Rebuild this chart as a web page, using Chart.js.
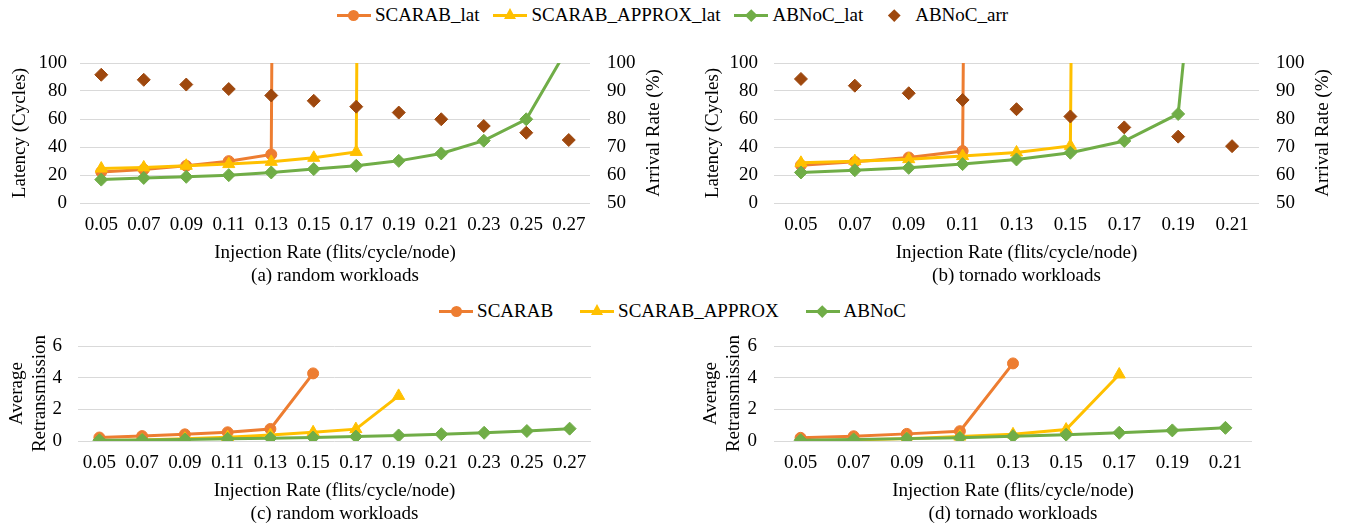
<!DOCTYPE html>
<html>
<head>
<meta charset="utf-8">
<script src="https://cdn.jsdelivr.net/npm/chart.js@4.4.1/dist/chart.umd.min.js"></script>
<style>
  body { margin: 0; background: #fff; width: 1345px; height: 528px; position: relative; overflow: hidden;
         font-family: "Liberation Serif", "Times New Roman", serif; color: #000; }
  .box { position: absolute; }
  .legend { position: absolute; left: 0; width: 1345px; display: flex; justify-content: center;
            font-size: 19px; line-height: 22px; white-space: nowrap; }
  .item { display: flex; align-items: center; }
  .sym { position: relative; width: 34px; height: 22px; margin-right: 4px; }
  .ln { position: absolute; left: 0; right: 0; top: 50%; height: 3px; margin-top: -1.5px; }
  .mk { position: absolute; left: 50%; top: 50%; }
  .mk.circle { width: 11px; height: 11px; margin: -5.5px 0 0 -5.5px; border-radius: 50%; }
  .mk.triangle { width: 0; height: 0; margin: -7px 0 0 -6.5px; border-left: 6.5px solid transparent;
                 border-right: 6.5px solid transparent; border-bottom: 11px solid; }
  .mk.diamond { width: 8.5px; height: 8.5px; margin: -4.25px 0 0 -4.25px; transform: rotate(45deg); }
</style>
</head>
<body>
<div id="legendTop" class="legend" style="top:4px"></div>
<div id="legendBottom" class="legend" style="top:300px"></div>
<div class="box" style="left:0;top:40px"><canvas id="chartA" width="670" height="250"></canvas></div>
<div class="box" style="left:670px;top:40px"><canvas id="chartB" width="675" height="250"></canvas></div>
<div class="box" style="left:0;top:325px"><canvas id="chartC" width="670" height="203"></canvas></div>
<div class="box" style="left:670px;top:325px"><canvas id="chartD" width="675" height="203"></canvas></div>
<script>
// ---- data ----
const catsRandom  = ['0.05','0.07','0.09','0.11','0.13','0.15','0.17','0.19','0.21','0.23','0.25','0.27'];
const catsTornado = ['0.05','0.07','0.09','0.11','0.13','0.15','0.17','0.19','0.21'];

// latency (cycles); the 5000 entries are saturated points far above the axis
const randScarabLat  = [22.2, 23.9, 26.6, 29.9, 34.7, 5000, null, null, null, null, null, null];
const randApproxLat  = [24.6, 25.4, 26.6, 27.8, 29.4, 32.3, 36.5, 5000, null, null, null, null];
const randAbnocLat   = [16.7, 17.9, 18.7, 19.9, 21.8, 24.2, 26.6, 30.1, 35.4, 44.5, 59.8, 112];
const randAbnocArr   = [95.8, 94.0, 92.3, 90.7, 88.4, 86.5, 84.4, 82.3, 79.9, 77.5, 75.1, 72.5];

const tornScarabLat  = [27.0, 29.4, 32.5, 37.1, 5000, null, null, null, null];
const tornApproxLat  = [28.7, 29.9, 31.3, 33.5, 36.1, 40.8, 5000, null, null];
const tornAbnocLat   = [21.8, 23.4, 25.1, 27.8, 31.1, 35.9, 44.3, 63.6, 450];
const tornAbnocArr   = [94.3, 91.9, 89.2, 86.8, 83.5, 80.9, 77.0, 73.7, 70.3];

// average retransmission
const randScarabRe   = [0.22, 0.31, 0.42, 0.55, 0.76, 4.27];
const randApproxRe   = [0.02, 0.06, 0.14, 0.24, 0.38, 0.55, 0.75, 2.85];
const randAbnocRe    = [0.05, 0.07, 0.10, 0.14, 0.18, 0.22, 0.28, 0.35, 0.43, 0.52, 0.63, 0.78];

const tornScarabRe   = [0.20, 0.30, 0.45, 0.62, 4.90];
const tornApproxRe   = [0.02, 0.07, 0.15, 0.28, 0.42, 0.72, 4.20];
const tornAbnocRe    = [0.05, 0.10, 0.15, 0.20, 0.30, 0.40, 0.52, 0.67, 0.83];

const latNames = ['SCARAB_lat', 'SCARAB_APPROX_lat', 'ABNoC_lat', 'ABNoC_arr'];
const reNames  = ['SCARAB', 'SCARAB_APPROX', 'ABNoC'];

// ---- style ----
const ORANGE = '#ED7D31', YELLOW = '#FFC000', GREEN = '#70AD47', BROWN = '#9E480E';
const GRID = '#d9d9d9';
const FONT = { family: '"Liberation Serif", "Times New Roman", serif', size: 19 };
Chart.defaults.font.family = FONT.family;
Chart.defaults.font.size = FONT.size;
Chart.defaults.color = '#000';

// ---- legends (html) ----
function buildLegend(el, names, colors, shapes, withLine, gap) {
  el.innerHTML = names.map((n, i) => `
    <span class="item" style="margin:0 ${gap / 2}px">
      <span class="sym">
        ${withLine[i] ? `<span class="ln" style="background:${colors[i]}"></span>` : ''}
        <span class="mk ${shapes[i]}" style="background:${shapes[i] === 'triangle' ? 'transparent' : colors[i]};color:${colors[i]}"></span>
      </span>
      <span>${n}</span>
    </span>`).join('');
}
buildLegend(document.getElementById('legendTop'), latNames,
  [ORANGE, YELLOW, GREEN, BROWN], ['circle', 'triangle', 'diamond', 'diamond'], [true, true, true, false], 14);
buildLegend(document.getElementById('legendBottom'), reNames,
  [ORANGE, YELLOW, GREEN], ['circle', 'triangle', 'diamond'], [true, true, true], 27);

// ---- helpers ----
function series(label, data, color, shape, radius, order, axis) {
  return {
    label, data, order, yAxisID: axis || 'y',
    borderColor: color, backgroundColor: color, borderWidth: 3, tension: 0,
    pointStyle: shape, pointRadius: radius, pointBorderWidth: 1,
    pointBackgroundColor: color, pointBorderColor: color
  };
}

// fixed box width for a vertical axis; the layout padding alone sets the plot top
function fixWidth(w) {
  return s => { s.width = w; s.paddingTop = 0; s.paddingBottom = 0; };
}

// right-hand axis title reads bottom-to-top like the left one
function sideTitle(text, x) {
  return {
    id: 'sideTitle',
    afterDraw(chart) {
      const { ctx, chartArea } = chart;
      ctx.save();
      ctx.translate(x, (chartArea.top + chartArea.bottom) / 2);
      ctx.rotate(-Math.PI / 2);
      ctx.font = `${FONT.size}px ${FONT.family}`;
      ctx.fillStyle = '#000';
      ctx.textAlign = 'center';
      ctx.textBaseline = 'middle';
      ctx.fillText(text, 0, 0);
      ctx.restore();
    }
  };
}

function xScale(caption, h) {
  return {
    offset: true,
    grid: { display: false, drawTicks: false },
    border: { display: false },
    ticks: { padding: 11, maxRotation: 0, autoSkip: false },
    title: { display: true, text: ['Injection Rate (flits/cycle/node)', caption], padding: { top: 0, bottom: 3 } },
    afterFit: s => { s.height = h; }
  };
}

function latChart(id, cats, lat1, lat2, lat3, arr, caption, g) {
  return new Chart(document.getElementById(id), {
    type: 'line',
    data: {
      labels: cats,
      datasets: [
        series(latNames[0], lat1, ORANGE, 'circle', 5.5, 4),
        series(latNames[1], lat2, YELLOW, 'triangle', 7, 3),
        series(latNames[2], lat3, GREEN, 'rectRot', 6.5, 2),
        { label: latNames[3], data: arr, yAxisID: 'y1', order: 1, showLine: false,
          pointStyle: 'rectRot', pointRadius: 6.5, pointBackgroundColor: BROWN, pointBorderColor: BROWN,
          backgroundColor: BROWN, borderColor: BROWN }
      ]
    },
    options: {
      responsive: false, animation: false, events: [],
      layout: { padding: { top: g.top, right: 0, bottom: 0, left: 0 } },
      plugins: { legend: { display: false }, tooltip: { enabled: false } },
      scales: {
        x: xScale(caption, g.xh),
        y: {
          position: 'left', min: 0, max: 100,
          ticks: { stepSize: 20, padding: g.ltick },
          grid: { color: GRID, drawTicks: false },
          border: { display: false },
          title: { display: true, text: 'Latency (Cycles)', padding: { top: g.ltitle, bottom: 0 } },
          afterFit: fixWidth(g.lw)
        },
        y1: {
          position: 'right', min: 50, max: 100,
          ticks: { stepSize: 10, padding: g.rtick },
          grid: { display: false, drawTicks: false },
          border: { display: false },
          afterFit: fixWidth(g.rw)
        }
      }
    },
    plugins: [sideTitle('Arrival Rate (%)', g.rtitle)]
  });
}

function reChart(id, cats, r1, r2, r3, caption, g) {
  return new Chart(document.getElementById(id), {
    type: 'line',
    data: {
      labels: cats,
      datasets: [
        series(reNames[0], r1, ORANGE, 'circle', 5.5, 3),
        series(reNames[1], r2, YELLOW, 'triangle', 7, 2),
        series(reNames[2], r3, GREEN, 'rectRot', 6.5, 1)
      ]
    },
    options: {
      responsive: false, animation: false, events: [],
      layout: { padding: { top: g.top, right: g.right, bottom: 0, left: 0 } },
      plugins: { legend: { display: false }, tooltip: { enabled: false } },
      scales: {
        x: xScale(caption, g.xh),
        y: {
          position: 'left', min: 0, max: 6,
          ticks: { stepSize: 2, padding: g.ltick },
          grid: { color: GRID, drawTicks: false },
          border: { display: false },
          title: { display: true, text: ['Average', 'Retransmission'], padding: { top: g.ltitle, bottom: 0 } },
          afterFit: fixWidth(g.lw)
        }
      }
    }
  });
}

// ---- charts ----
latChart('chartA', catsRandom, randScarabLat, randApproxLat, randAbnocLat, randAbnocArr,
  '(a) random workloads', { top: 23, xh: 87, lw: 80, rw: 80, ltick: 13, rtick: 17, ltitle: 9, rtitle: 654 });
latChart('chartB', catsTornado, tornScarabLat, tornApproxLat, tornAbnocLat, tornAbnocArr,
  '(b) tornado workloads', { top: 23, xh: 87, lw: 104, rw: 86, ltick: 16, rtick: 17, ltitle: 31.5, rtitle: 653 });
reChart('chartC', catsRandom, randScarabRe, randApproxRe, randAbnocRe,
  '(c) random workloads', { top: 21, right: 79, xh: 87, lw: 78, ltick: 16, ltitle: 5.5 });
reChart('chartD', catsTornado, tornScarabRe, tornApproxRe, tornAbnocRe,
  '(d) tornado workloads', { top: 21, right: 93, xh: 87, lw: 104, ltick: 17, ltitle: 29.5 });
</script>
</body>
</html>
